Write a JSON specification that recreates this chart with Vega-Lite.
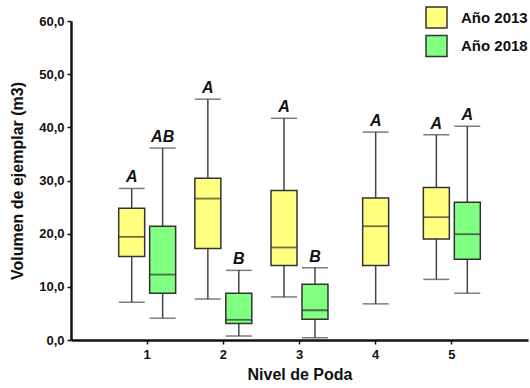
{
  "$schema": "https://vega.github.io/schema/vega-lite/v6.json",
  "width": 457,
  "height": 319,
  "autosize": {"type": "none"},
  "padding": {"left": 71, "top": 21, "right": 2, "bottom": 48},
  "background": "white",
  "config": {
    "view": {"stroke": null},
    "font": "Liberation Sans",
    "axis": {
      "domainColor": "#111111",
      "domainWidth": 2.5,
      "tickColor": "#111111",
      "tickWidth": 1.5,
      "tickSize": 4,
      "labelFont": "Liberation Sans",
      "labelFontWeight": "bold",
      "labelFontSize": 13,
      "labelColor": "#111111",
      "titleFont": "Liberation Sans",
      "titleFontWeight": "bold",
      "titleFontSize": 16,
      "titleColor": "#111111",
      "grid": false
    },
    "legend": {
      "orient": "none",
      "legendX": 354,
      "legendY": -15,
      "title": null,
      "padding": 0,
      "symbolType": "square",
      "symbolSize": 441,
      "symbolStrokeColor": "#333333",
      "symbolStrokeWidth": 1.5,
      "symbolOpacity": 1,
      "labelFont": "Liberation Sans",
      "labelFontWeight": "bold",
      "labelFontSize": 15,
      "labelColor": "#111111",
      "labelOffset": 13,
      "rowPadding": 1.5
    }
  },
  "data": {
    "values": [
      {"nivel": 1, "anio": "Año 2013", "lower": 7.1, "q1": 15.7, "median": 19.4, "q3": 24.8, "upper": 28.5, "letra": "A"},
      {"nivel": 1, "anio": "Año 2018", "lower": 4.1, "q1": 8.8, "median": 12.3, "q3": 21.4, "upper": 36.1, "letra": "AB"},
      {"nivel": 2, "anio": "Año 2013", "lower": 7.7, "q1": 17.2, "median": 26.6, "q3": 30.4, "upper": 45.3, "letra": "A"},
      {"nivel": 2, "anio": "Año 2018", "lower": 0.75, "q1": 3.1, "median": 3.8, "q3": 8.8, "upper": 13.1, "letra": "B"},
      {"nivel": 3, "anio": "Año 2013", "lower": 8.1, "q1": 14.0, "median": 17.4, "q3": 28.1, "upper": 41.7, "letra": "A"},
      {"nivel": 3, "anio": "Año 2018", "lower": 0.4, "q1": 3.9, "median": 5.6, "q3": 10.5, "upper": 13.6, "letra": "B"},
      {"nivel": 4, "anio": "Año 2013", "lower": 6.8, "q1": 14.0, "median": 21.4, "q3": 26.7, "upper": 39.1, "letra": "A"},
      {"nivel": 5, "anio": "Año 2013", "lower": 11.4, "q1": 19.0, "median": 23.1, "q3": 28.7, "upper": 38.6, "letra": "A"},
      {"nivel": 5, "anio": "Año 2018", "lower": 8.8, "q1": 15.2, "median": 19.9, "q3": 25.9, "upper": 40.2, "letra": "A"}
    ]
  },
  "encoding": {
    "x": {
      "field": "nivel",
      "type": "ordinal",
      "scale": {"domain": [1, 2, 3, 4, 5], "paddingInner": 0, "paddingOuter": 0.5},
      "axis": {"labelAngle": 0, "title": "Nivel de Poda", "labelPadding": 4, "titlePadding": 5}
    }
  },
  "layer": [
    {
      "transform": [{"filter": "datum.nivel != 4"}],
      "encoding": {
        "xOffset": {"field": "anio", "type": "nominal", "scale": {"domain": ["Año 2013", "Año 2018"], "paddingInner": 0, "paddingOuter": 0.23}}
      },
      "layer": [
        {
          "mark": {"type": "rule", "color": "#444444", "strokeWidth": 1.5},
          "encoding": {
            "y": {"field": "lower", "type": "quantitative", "scale": {"domain": [0, 60], "nice": false}, "axis": {"values": [0, 10, 20, 30, 40, 50, 60], "labelExpr": "replace(format(datum.value, '.1f'), '.', ',')", "titlePadding": 13, "labelPadding": 3}, "title": "Volumen de ejemplar (m3)"},
            "y2": {"field": "upper"}
          }
        },
        {
          "mark": {"type": "tick", "color": "#444444", "thickness": 1.5, "size": 26},
          "encoding": {"y": {"field": "lower", "type": "quantitative", "title": "Volumen de ejemplar (m3)"}}
        },
        {
          "mark": {"type": "tick", "color": "#444444", "thickness": 1.5, "size": 26},
          "encoding": {"y": {"field": "upper", "type": "quantitative", "title": "Volumen de ejemplar (m3)"}}
        },
        {
          "mark": {"type": "bar", "width": 26, "stroke": "#333333", "strokeWidth": 1.5, "opacity": 1},
          "encoding": {
            "y": {"field": "q1", "type": "quantitative", "title": "Volumen de ejemplar (m3)"},
            "y2": {"field": "q3"},
            "color": {"field": "anio", "type": "nominal", "scale": {"domain": ["Año 2013", "Año 2018"], "range": ["#FFFF80", "#80FF80"]}}
          }
        },
        {
          "mark": {"type": "tick", "color": "#333333", "thickness": 1.8, "size": 26},
          "encoding": {"y": {"field": "median", "type": "quantitative", "title": "Volumen de ejemplar (m3)"}}
        },
        {
          "mark": {"type": "text", "font": "Liberation Sans", "fontSize": 16, "fontWeight": "bold", "fontStyle": "italic", "color": "#111111", "dy": -6, "baseline": "alphabetic"},
          "encoding": {
            "y": {"field": "upper", "type": "quantitative", "title": "Volumen de ejemplar (m3)"},
            "text": {"field": "letra"}
          }
        }
      ]
    },
    {
      "transform": [{"filter": "datum.nivel == 4"}],
      "layer": [
        {
          "mark": {"type": "rule", "color": "#444444", "strokeWidth": 1.5},
          "encoding": {
            "y": {"field": "lower", "type": "quantitative", "title": "Volumen de ejemplar (m3)"},
            "y2": {"field": "upper"}
          }
        },
        {
          "mark": {"type": "tick", "color": "#444444", "thickness": 1.5, "size": 26},
          "encoding": {"y": {"field": "lower", "type": "quantitative", "title": "Volumen de ejemplar (m3)"}}
        },
        {
          "mark": {"type": "tick", "color": "#444444", "thickness": 1.5, "size": 26},
          "encoding": {"y": {"field": "upper", "type": "quantitative", "title": "Volumen de ejemplar (m3)"}}
        },
        {
          "mark": {"type": "bar", "width": 26, "stroke": "#333333", "strokeWidth": 1.5, "opacity": 1},
          "encoding": {
            "y": {"field": "q1", "type": "quantitative", "title": "Volumen de ejemplar (m3)"},
            "y2": {"field": "q3"},
            "color": {"field": "anio", "type": "nominal", "scale": {"domain": ["Año 2013", "Año 2018"], "range": ["#FFFF80", "#80FF80"]}}
          }
        },
        {
          "mark": {"type": "tick", "color": "#333333", "thickness": 1.8, "size": 26},
          "encoding": {"y": {"field": "median", "type": "quantitative", "title": "Volumen de ejemplar (m3)"}}
        },
        {
          "mark": {"type": "text", "font": "Liberation Sans", "fontSize": 16, "fontWeight": "bold", "fontStyle": "italic", "color": "#111111", "dy": -6, "baseline": "alphabetic"},
          "encoding": {
            "y": {"field": "upper", "type": "quantitative", "title": "Volumen de ejemplar (m3)"},
            "text": {"field": "letra"}
          }
        }
      ]
    }
  ]
}
